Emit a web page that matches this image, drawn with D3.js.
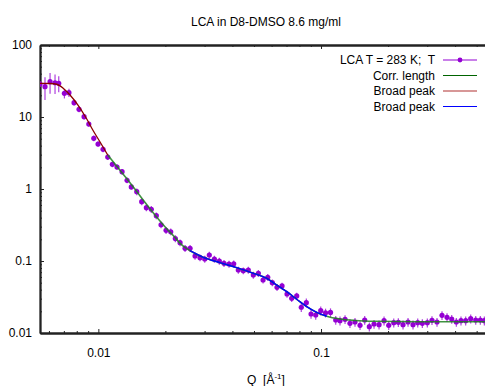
<!DOCTYPE html>
<html>
<head>
<meta charset="utf-8">
<script src="https://cdn.jsdelivr.net/npm/d3@7.9.0/dist/d3.min.js"></script>
<style>
  body { margin: 0; background: #fff; }
  svg { display: block; font-family: "Liberation Sans", Arial, sans-serif; }
  .tick text { font-size: 12px; fill: #000; }
</style>
</head>
<body>
<svg id="chart" width="485" height="386"></svg>
<script>
// ====== DATA ======
const title = "LCA in D8-DMSO 8.6 mg/ml";

// measured points: Q [1/A], intensity, relative error
const qData = [0.00547,0.00576,0.00607,0.00639,0.00664,0.00704,0.00738,0.00778,0.00819,0.00863,
  0.00906,0.00954,0.00997,0.0105,0.01102,0.01156,0.01213,0.01278,0.01346,0.01406,
  0.01488,0.01566,0.01643,0.01729,0.01821,0.01912,0.02014,0.02114,0.02217,0.02328,
  0.02451,0.02582,0.02718,0.02862,0.03005,0.0315,0.0332,0.03494,0.03667,0.03863,
  0.04055,0.04252,0.04477,0.04715,0.04966,0.05231,0.05492,0.05765,0.06045,0.06345,
  0.06682,0.07036,0.07385,0.07777,0.08154,0.0859,0.09019,0.09467,0.0997,0.1048,
  0.1103,0.1164,0.1217,0.1282,0.1349,0.1421,0.1497,0.1571,0.1648,0.173,
  0.1822,0.1919,0.2014,0.2121,0.2224,0.2335,0.2459,0.2589,0.2718,0.2851,
  0.3002,0.315,0.3318,0.3494,0.368,0.3863,0.4052,0.4252,0.4463,0.4701,
  0.4951,0.5193,0.5413];
const iData = [28.7,26.4,30.9,29.9,29.4,21.3,21.8,15.8,12.8,10.1,
  8.0,5.06,4.22,3.56,2.78,2.20,2.02,1.74,1.32,1.07,
  0.917,0.666,0.550,0.523,0.426,0.319,0.267,0.255,0.205,0.1795,
  0.150,0.150,0.1173,0.1111,0.1066,0.1212,0.1066,0.100,0.0929,0.0908,
  0.0915,0.075,0.0733,0.075,0.0639,0.0675,0.0545,0.0594,0.0500,0.0431,
  0.0450,0.0348,0.0303,0.0327,0.0228,0.0264,0.01836,0.01778,0.0204,0.0191,
  0.0193,0.01516,0.01482,0.0155,0.01364,0.01422,0.01279,0.01516,0.01223,0.01334,
  0.01304,0.01482,0.01279,0.0139,0.01408,0.01304,0.01422,0.01304,0.0139,0.01364,
  0.0139,0.0150,0.01422,0.01761,0.01652,0.01565,0.01422,0.01482,0.01482,0.0158,
  0.01516,0.01516,0.01482];
const errFrac = [0.1,0.35,0.32,0.3,0.25,0.15,0.13,0.09,0.09,0.09,
  0.09,0.09,0.09,0.09,0.09,0.09,0.09,0.09,0.09,0.09,
  0.11,0.11,0.11,0.11,0.11,0.11,0.11,0.11,0.11,0.11,
  0.11,0.11,0.11,0.11,0.11,0.11,0.11,0.11,0.11,0.11,
  0.11,0.11,0.11,0.11,0.11,0.11,0.11,0.11,0.11,0.11,
  0.11,0.11,0.11,0.11,0.14,0.14,0.14,0.14,0.14,0.14,
  0.14,0.14,0.14,0.14,0.14,0.14,0.14,0.14,0.14,0.14,
  0.14,0.14,0.14,0.14,0.14,0.14,0.14,0.14,0.14,0.14,
  0.14,0.14,0.14,0.14,0.14,0.14,0.14,0.14,0.14,0.14,
  0.14,0.14,0.14];

// fit curves
const greenQ = [0.01102,0.01213,0.01346,0.01493,0.01655,0.01835,0.02014,0.0221,0.02328,0.02582,
  0.02961,0.0352,0.04183,0.04966,0.05705,0.06325,0.07015,0.07777,0.08626,0.0957,
  0.1061,0.1217,0.1421,0.1748,0.2782,0.545];
const greenI = [2.97,2.05,1.377,0.909,0.600,0.402,0.287,0.212,0.176,0.139,
  0.1126,0.0947,0.0807,0.0675,0.0575,0.0464,0.0375,0.0294,0.0232,0.0193,
  0.0171,0.01565,0.01492,0.01454,0.01435,0.01435];
const redQ = [0.00547,0.00607,0.0065,0.00697,0.00746,0.00813,0.00887,0.0095,0.01018,0.01102];
const redI = [29.4,29.2,28.5,24.9,20.2,14.4,9.38,6.39,4.49,2.97];
const blueQ = [0.02582,0.02961,0.0352,0.04183,0.04966,0.05705,0.06325,0.07015,0.07777,0.08626,0.0957,0.1061];
const blueI = [0.139,0.1126,0.0947,0.0807,0.0675,0.0575,0.0464,0.0375,0.0294,0.0232,0.0193,0.0171];

// ticks
const xMajor = [0.01, 0.1];
const xMinor = [0.006,0.007,0.008,0.009,0.02,0.03,0.04,0.05,0.06,0.07,0.08,0.09,0.2,0.3,0.4,0.5];
const yMajor = [0.01, 0.1, 1, 10, 100];
const yMinor = [0.02,0.03,0.04,0.05,0.06,0.07,0.08,0.09,0.2,0.3,0.4,0.5,0.6,0.7,0.8,0.9,
  2,3,4,5,6,7,8,9,20,30,40,50,60,70,80,90];

const legendLabels = ["LCA T = 283 K;  T", "Corr. length", "Broad peak", "Broad peak"];
const legendColors = ["#9400d3", "#006400", "#b03030", "#0000ff"];

// ====== LAYOUT ======
const L = 40, R = 485, T = 45, B = 333;
const svg = d3.select("#chart");

const x = d3.scaleLog().domain([0.00547, 0.545]).range([L, R]);
const y = d3.scaleLog().domain([0.01, 100]).range([B, T]);

svg.append("defs").append("clipPath").attr("id", "plotclip")
  .append("rect").attr("x", L).attr("y", T).attr("width", R - L).attr("height", B - T);

const axisColor = "#222";

function styleAxis(g) {
  g.selectAll("path.domain").attr("stroke", axisColor).attr("stroke-width", 1.8);
  g.selectAll(".tick line").attr("stroke", axisColor).attr("stroke-width", 1);
}

// bottom
svg.append("g").attr("transform", `translate(0,${B})`)
  .call(d3.axisBottom(x).tickValues(xMinor).tickFormat("").tickSize(-2).tickSizeOuter(0))
  .call(styleAxis);
svg.append("g").attr("transform", `translate(0,${B})`)
  .call(d3.axisBottom(x).tickValues(xMajor).tickFormat(d3.format("")).tickSize(-4).tickSizeOuter(0).tickPadding(15))
  .call(styleAxis);
// top mirror
svg.append("g").attr("transform", `translate(0,${T})`)
  .call(d3.axisTop(x).tickValues(xMinor).tickFormat("").tickSize(-2).tickSizeOuter(0))
  .call(styleAxis);
svg.append("g").attr("transform", `translate(0,${T})`)
  .call(d3.axisTop(x).tickValues(xMajor).tickFormat("").tickSize(-4).tickSizeOuter(0))
  .call(styleAxis);
// left
svg.append("g").attr("transform", `translate(${L},0)`)
  .call(d3.axisLeft(y).tickValues(yMinor).tickFormat("").tickSize(-2).tickSizeOuter(0))
  .call(styleAxis);
svg.append("g").attr("transform", `translate(${L},0)`)
  .call(d3.axisLeft(y).tickValues(yMajor).tickFormat(d3.format("")).tickSize(-4).tickSizeOuter(0).tickPadding(8))
  .call(styleAxis);

svg.selectAll(".tick text").attr("font-family", null).attr("font-size", null);

// ====== DATA POINTS ======
const pts = qData.map((q, i) => ({ q, v: iData[i], e: iData[i] * errFrac[i] }));
const plot = svg.append("g").attr("clip-path", "url(#plotclip)");

plot.selectAll("line.err").data(pts).join("line")
  .attr("class", "err")
  .attr("x1", d => x(d.q)).attr("x2", d => x(d.q))
  .attr("y1", d => y(d.v + d.e)).attr("y2", d => y(Math.max(d.v - d.e, 1e-4)))
  .attr("stroke", "#9400d3").attr("stroke-opacity", 0.75).attr("stroke-width", 1.2);

plot.selectAll("circle.pt").data(pts).join("circle")
  .attr("class", "pt")
  .attr("cx", d => x(d.q)).attr("cy", d => y(d.v)).attr("r", 2.6)
  .attr("fill", "#9400d3");

// ====== FIT CURVES ======
const line = d3.line().x(d => x(d[0])).y(d => y(d[1])).curve(d3.curveMonotoneX);

function drawCurve(qs, is, color, w, op) {
  plot.append("path")
    .attr("d", line(qs.map((q, i) => [q, is[i]])))
    .attr("fill", "none").attr("stroke", color).attr("stroke-width", w)
    .attr("stroke-opacity", op);
}
drawCurve(greenQ, greenI, "#1f7f1f", 1.6, 0.85);
drawCurve(redQ, redI, "#8b0000", 1.3, 1);
drawCurve(blueQ, blueI, "#0000ff", 1.4, 1);

// ====== LEGEND ======
const leg = svg.append("g");
legendLabels.forEach((lab, i) => {
  const yy = 60 + i * 15.5;
  leg.append("text")
    .attr("x", 435).attr("y", yy + 4)
    .attr("text-anchor", "end")
    .attr("font-size", 12)
    .style("white-space", "pre")
    .text(lab);
  leg.append("line")
    .attr("x1", 443).attr("x2", 477).attr("y1", yy).attr("y2", yy)
    .attr("stroke", legendColors[i]).attr("stroke-width", 1.2);
  if (i === 0) {
    leg.append("circle").attr("cx", 460).attr("cy", yy).attr("r", 2.4).attr("fill", legendColors[0]);
  }
});

// ====== TITLES ======
svg.append("text")
  .attr("x", 266).attr("y", 26)
  .attr("text-anchor", "middle")
  .attr("font-size", 12)
  .text(title);

const xl = svg.append("text")
  .attr("x", 266).attr("y", 384)
  .attr("text-anchor", "middle")
  .attr("font-size", 12)
  .style("white-space", "pre");
xl.append("tspan").text("Q  [Å");
xl.append("tspan").attr("font-size", 8).attr("dy", -5).text("-1");
xl.append("tspan").attr("dy", 5).text("]");
</script>
</body>
</html>
